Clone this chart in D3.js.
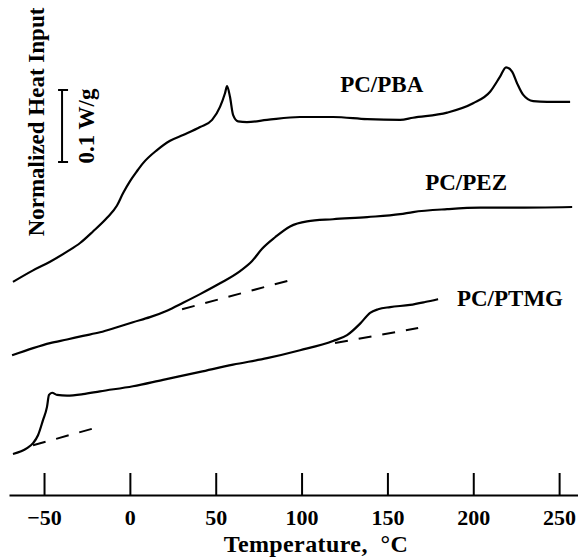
<!DOCTYPE html>
<html>
<head>
<meta charset="utf-8">
<script src="https://cdn.jsdelivr.net/npm/d3@7"></script>
<style>
  body { margin: 0; background: #fff; }
  svg text { font-family: "Liberation Serif", "Times New Roman", serif; font-weight: bold; fill: #000; }
</style>
</head>
<body>
<svg width="578" height="557"></svg>
<script>
// Tick labels of the temperature axis
var tickTemps = [-50, 0, 50, 100, 150, 200, 250];

// PC/PBA trace (temperature in C, heat input in W/g, curves offset)
var pbaT = [-68.1, -56.4, -46.5, -36.6, -29.0, -21.5, -13.3, -7.5, -4.0, 0.1, 4.2, 7.7, 15.8, 23.4, 31.0, 40.9, 47.9, 52.5, 55.4, 56.6, 58.3, 60.1, 63.0, 68.2, 79.9, 99.1, 118.3, 138.2, 157.4, 164.9, 184.8, 199.9, 209.8, 215.6, 219.1, 222.6, 225.5, 229.0, 234.9, 243.0, 256.4];
var pbaQ = [0.296, 0.312, 0.324, 0.338, 0.350, 0.366, 0.385, 0.402, 0.419, 0.436, 0.450, 0.461, 0.479, 0.492, 0.500, 0.511, 0.521, 0.539, 0.558, 0.568, 0.553, 0.528, 0.519, 0.518, 0.521, 0.525, 0.525, 0.522, 0.521, 0.524, 0.531, 0.544, 0.560, 0.581, 0.594, 0.588, 0.572, 0.556, 0.547, 0.546, 0.546];

// PC/PEZ trace
var pezT = [-68.6, -56.4, -46.5, -36.6, -27.3, -17.4, -7.5, 1.8, 11.7, 21.6, 31.0, 40.9, 52.5, 64.2, 71.2, 77.0, 84.6, 93.3, 103.2, 118.3, 138.2, 157.4, 164.9, 184.8, 204.0, 223.2, 257.6];
var pezQ = [0.194, 0.204, 0.211, 0.216, 0.221, 0.226, 0.233, 0.240, 0.247, 0.256, 0.267, 0.279, 0.294, 0.311, 0.325, 0.342, 0.358, 0.373, 0.380, 0.383, 0.386, 0.390, 0.393, 0.397, 0.399, 0.399, 0.400];

// PC/PTMG trace
var ptmgT = [-68.1, -59.9, -56.4, -53.5, -50.6, -48.3, -47.1, -45.3, -42.4, -36.6, -27.3, -17.4, 1.8, 19.3, 40.9, 60.1, 79.9, 99.1, 118.3, 126.5, 134.1, 139.9, 144.6, 151.6, 163.2, 171.9, 179.5];
var ptmgQ = [0.057, 0.065, 0.072, 0.083, 0.104, 0.122, 0.139, 0.142, 0.139, 0.138, 0.140, 0.144, 0.151, 0.160, 0.171, 0.181, 0.190, 0.201, 0.214, 0.222, 0.238, 0.253, 0.258, 0.261, 0.264, 0.268, 0.272];

// Dashed baseline extrapolations [T1, Q1, T2, Q2]
var pezBase = [30.4, 0.258, 97.4, 0.301];
var ptmgBase1 = [-56.4, 0.069, -22.0, 0.092];
var ptmgBase2 = [119.5, 0.211, 167.9, 0.232];

// Curve labels
var labelNames = ["PC/PBA", "PC/PEZ", "PC/PTMG"];
var labelT = [122.5, 172.0, 190.5];
var labelQ = [0.560, 0.424, 0.263];

// Scale bar: position and size (W/g)
var scaleBarT = -39.5;
var scaleBarBottom = 0.4625;
var scaleBarSize = 0.1;

var svg = d3.select("svg");

// x scale (temperature)
var xScale = d3.scaleLinear()
    .domain([-70.4, 261])
    .range([9, 578]);

// y scale: 0.1 W/g is 72 px
var yScale = d3.scaleLinear()
    .domain([0, 0.1])
    .range([495, 423]);

// Temperature axis, ticks pointing up
var xAxis = d3.axisBottom(xScale)
    .tickValues(tickTemps)
    .tickSizeInner(-22)
    .tickSizeOuter(0)
    .tickPadding(14)
    .tickFormat(d3.format("d"));

var gx = svg.append("g")
    .attr("transform", "translate(0,495)")
    .call(xAxis);
gx.select(".domain").attr("stroke", "#000").attr("stroke-width", 2);
gx.selectAll(".tick line").attr("stroke", "#000").attr("stroke-width", 2);
gx.selectAll(".tick text")
    .attr("font-size", "22px")
    .attr("font-family", "Liberation Serif, serif")
    .attr("font-weight", "bold")
    .attr("fill", "#000");

// Axis title
svg.append("text")
    .attr("x", 316)
    .attr("y", 552)
    .attr("text-anchor", "middle")
    .attr("font-size", "24px")
    .attr("letter-spacing", "0.4px")
    .attr("xml:space", "preserve")
    .text("Temperature,  \u00B0C");

// y label
svg.append("text")
    .attr("transform", "translate(44,122) rotate(-90)")
    .attr("text-anchor", "middle")
    .attr("font-size", "23px")
    .text("Normalized Heat Input");

// Line generator
var line = d3.line()
    .x(function (d) { return xScale(d[0]); })
    .y(function (d) { return yScale(d[1]); })
    .curve(d3.curveMonotoneX);

var traces = [[pbaT, pbaQ], [pezT, pezQ], [ptmgT, ptmgQ]];
traces.forEach(function (t) {
    var pts = t[0].map(function (v, i) { return [v, t[1][i]]; });
    svg.append("path")
        .datum(pts)
        .attr("fill", "none")
        .attr("stroke", "#000")
        .attr("stroke-width", 2.2)
        .attr("stroke-linejoin", "round")
        .attr("d", line);
});

// Dashed baselines
[pezBase, ptmgBase1, ptmgBase2].forEach(function (b) {
    svg.append("line")
        .attr("x1", xScale(b[0]))
        .attr("y1", yScale(b[1]))
        .attr("x2", xScale(b[2]))
        .attr("y2", yScale(b[3]))
        .attr("stroke", "#000")
        .attr("stroke-width", 2)
        .attr("stroke-dasharray", "13,11");
});

// Curve labels
svg.selectAll(".curveLabel")
    .data(labelNames)
    .enter()
    .append("text")
    .attr("class", "curveLabel")
    .attr("x", function (d, i) { return xScale(labelT[i]); })
    .attr("y", function (d, i) { return yScale(labelQ[i]); })
    .attr("font-size", "23px")
    .text(function (d) { return d; });

// Scale bar
var sbx = xScale(scaleBarT);
var sbTop = yScale(scaleBarBottom + scaleBarSize);
var sbBot = yScale(scaleBarBottom);
svg.append("line")
    .attr("x1", sbx).attr("x2", sbx)
    .attr("y1", sbTop).attr("y2", sbBot)
    .attr("stroke", "#000").attr("stroke-width", 2);
[sbTop, sbBot].forEach(function (y) {
    svg.append("line")
        .attr("x1", sbx - 4).attr("x2", sbx + 6)
        .attr("y1", y).attr("y2", y)
        .attr("stroke", "#000").attr("stroke-width", 2);
});
svg.append("text")
    .attr("transform", "translate(94," + ((sbTop + sbBot) / 2) + ") rotate(-90)")
    .attr("text-anchor", "middle")
    .attr("font-size", "23px")
    .text("0.1 W/g");
</script>
</body>
</html>
